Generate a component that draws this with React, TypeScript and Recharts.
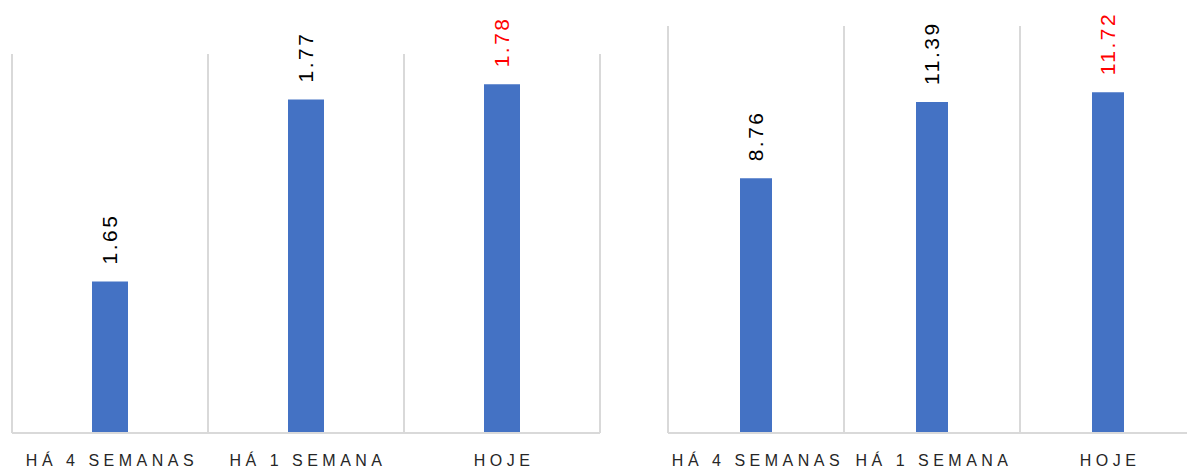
import { BarChart, Bar, XAxis, YAxis, CartesianGrid, LabelList } from 'recharts';

const categories = ['HÁ 4 SEMANAS', 'HÁ 1 SEMANA', 'HOJE'];
const leftValues = [1.65, 1.77, 1.78];
const rightValues = [8.76, 11.39, 11.72];
const labelColors = ['#000000', '#000000', '#ff0000'];

const BAR_COLOR = '#4472c4';
const GRID_COLOR = '#d9d9d9';
const FONT = '"Liberation Sans", Arial, sans-serif';

type Row = { name: string; value: number; color: string };

const buildRows = (values: number[]): Row[] =>
  categories.map((name, i) => ({ name, value: values[i], color: labelColors[i] }));

const leftData = buildRows(leftValues);
const rightData = buildRows(rightValues);

const CategoryTick = (props: any) => {
  const { x, payload } = props;
  return (
    <text
      x={x + 2}
      y={466}
      textAnchor="middle"
      fontFamily={FONT}
      fontSize={16}
      fill="#262626"
      style={{ letterSpacing: '4.5px' }}
    >
      {payload.value}
    </text>
  );
};

const makeLabel = (rows: Row[]) => (props: any) => {
  const { x, y, width, value, index } = props;
  const cx = Number(x) + Number(width) / 2 + 7.5;
  const cy = Number(y) - 17;
  const color = rows[index]?.color ?? '#000000';
  return (
    <text
      x={cx}
      y={cy}
      transform={`rotate(-90 ${cx} ${cy})`}
      fontFamily={FONT}
      fontSize={21}
      fill={color}
      style={{ letterSpacing: '2.5px' }}
    >
      {Number(value).toFixed(2)}
    </text>
  );
};

const boundaryLines = ({ offset }: any) =>
  [0, 1, 2, 3].map((i) => offset.left + (i * offset.width) / categories.length);

type PanelProps = {
  data: Row[];
  domain: [number, number];
  width: number;
  top: number;
  barSize: number;
};

const Panel = ({ data, domain, width, top, barSize }: PanelProps) => (
  <BarChart
    width={width}
    height={471}
    data={data}
    margin={{ top, right: 12, bottom: 0, left: 12 }}
  >
    <CartesianGrid
      horizontal={false}
      stroke={GRID_COLOR}
      strokeWidth={2}
      verticalCoordinatesGenerator={boundaryLines}
    />
    <XAxis
      dataKey="name"
      height={38}
      tickLine={false}
      axisLine={{ stroke: GRID_COLOR, strokeWidth: 2 }}
      tick={<CategoryTick />}
      interval={0}
    />
    <YAxis hide domain={domain} />
    <Bar dataKey="value" fill={BAR_COLOR} barSize={barSize} isAnimationActive={false}>
      <LabelList dataKey="value" content={makeLabel(data)} />
    </Bar>
  </BarChart>
);

export default function App() {
  return (
    <div
      style={{
        position: 'absolute',
        left: 0,
        top: 0,
        width: 1187,
        height: 471,
        overflow: 'hidden',
        background: '#ffffff',
      }}
    >
      <div style={{ position: 'absolute', left: 0, top: 0 }}>
        <Panel data={leftData} domain={[1.55, 1.8]} width={612} top={54} barSize={36} />
      </div>
      <div style={{ position: 'absolute', left: 656, top: 0 }}>
        <Panel data={rightData} domain={[0, 14]} width={552} top={26} barSize={32} />
      </div>
    </div>
  );
}
